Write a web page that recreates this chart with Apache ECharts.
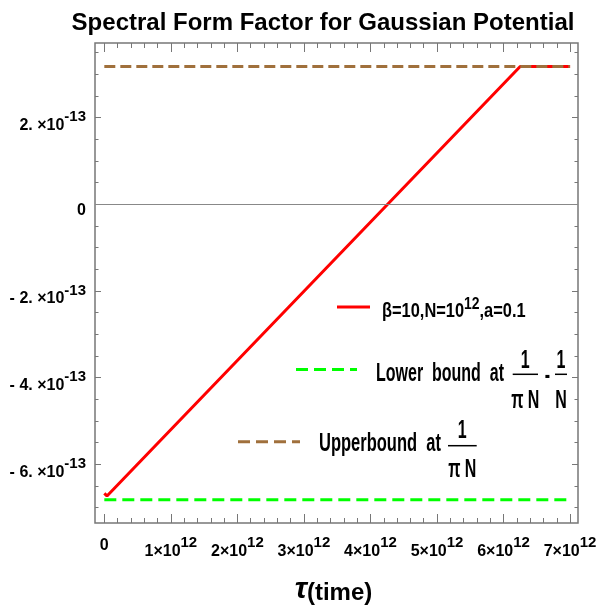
<!DOCTYPE html>
<html><head><meta charset="utf-8">
<script src="https://cdn.jsdelivr.net/npm/echarts@6/dist/echarts.min.js"></script>
<style>html,body{margin:0;padding:0;background:#fff}#c{width:596px;height:609px}</style>
</head><body><div id="c"></div>
<script>
// ---- data ----
const titleText = 'Spectral Form Factor for Gaussian Potential';
const redX = [0, 0.04e12, 6.25e12, 7e12];
const redY = [-6.67e-13, -6.73e-13, 3.18e-13, 3.18e-13];
const upperX = [0, 7e12];
const upperY = [3.183e-13, 3.183e-13];
const lowerX = [0, 7e12];
const lowerY = [-6.817e-13, -6.817e-13];
const xMajorTicks = [0, 1e12, 2e12, 3e12, 4e12, 5e12, 6e12, 7e12];
const xTickMain = ['0', '1×10', '2×10', '3×10', '4×10', '5×10', '6×10', '7×10'];
const xTickExp = ['', '12', '12', '12', '12', '12', '12', '12'];
const yMajorTicks = [-6e-13, -4e-13, -2e-13, 0, 2e-13];
const yTickMain = ['- 6. ×10', '- 4. ×10', '- 2. ×10', '0', '2. ×10'];
const yTickExp = ['-13', '-13', '-13', '', '-13'];

const xMin = -0.14e12, xMax = 7.119e12;
const yMin = -7.355e-13, yMax = 3.723e-13;

const xMinorTicks = [];
for (let k = 1; k <= 35; k++) if (k % 5 !== 0) xMinorTicks.push(k * 0.2e12);
const yMinorTicks = [];
for (let k = -14; k <= 7; k++) if (k % 4 !== 0) yMinorTicks.push(k * 5e-14);

const GRAY = '#777777';
const FONT = 'Liberation Sans';

function idxOf(arr, v) {
  let best = 0, bd = Infinity;
  arr.forEach((a, i) => { const d = Math.abs(a - v); if (d < bd) { bd = d; best = i; } });
  return best;
}

const xRich = {
  m: {fontSize: 16, fontWeight: 'bold', fontFamily: FONT, color: '#000', lineHeight: 16, verticalAlign: 'bottom'},
  s: {fontSize: 15, fontWeight: 'bold', fontFamily: FONT, color: '#000', lineHeight: 16, verticalAlign: 'bottom', padding: [0, 0, 10, 0]},
  z: {fontSize: 16, fontWeight: 'bold', fontFamily: FONT, color: '#000', lineHeight: 16, verticalAlign: 'bottom', padding: [0, 0, 6, 0]}
};
const yRich = {
  m: {fontSize: 16, fontWeight: 'bold', fontFamily: FONT, color: '#000', lineHeight: 16, verticalAlign: 'bottom'},
  s: {fontSize: 15, fontWeight: 'bold', fontFamily: FONT, color: '#000', lineHeight: 16, verticalAlign: 'bottom', padding: [0, 0, 9, 0]},
  z: {fontSize: 16, fontWeight: 'bold', fontFamily: FONT, color: '#000', lineHeight: 16, verticalAlign: 'bottom', padding: [0, 0, 2, 0]}
};

function xAxisDef(pos, ticks, len, withLabels) {
  const a = {
    type: 'value', position: pos, min: xMin, max: xMax,
    axisLine: {show: false, onZero: false},
    splitLine: {show: false},
    axisTick: {show: true, inside: true, length: len, customValues: ticks, lineStyle: {color: GRAY, width: 1}},
    axisLabel: {show: false}
  };
  if (withLabels) {
    a.axisLabel = {
      show: true, customValues: xMajorTicks, margin: 21, rich: xRich,
      formatter: v => { const i = idxOf(xMajorTicks, v); return xTickExp[i] ? '{m|' + xTickMain[i] + '}{s|' + xTickExp[i] + '}' : '{z|' + xTickMain[i] + '}'; }
    };
    a.name = '{t|τ}{p|(time)}';
    a.nameLocation = 'middle';
    a.nameGap = 56;
    a.nameTextStyle = {padding: [0, 6, 0, 0], rich: {
      t: {fontSize: 30, fontWeight: 'bold', fontStyle: 'italic', fontFamily: FONT, color: '#000', verticalAlign: 'bottom', lineHeight: 26},
      p: {fontSize: 24, fontWeight: 'bold', fontFamily: FONT, color: '#000', verticalAlign: 'bottom', lineHeight: 26}
    }};
  }
  return a;
}
function yAxisDef(pos, ticks, len, withLabels) {
  const a = {
    type: 'value', position: pos, min: yMin, max: yMax,
    axisLine: {show: false, onZero: false},
    splitLine: {show: false},
    axisTick: {show: true, inside: true, length: len, customValues: ticks, lineStyle: {color: GRAY, width: 1}},
    axisLabel: {show: false}
  };
  if (withLabels) {
    a.axisLabel = {
      show: true, customValues: yMajorTicks, margin: 9, rich: yRich, padding: [16, 0, 0, 0],
      formatter: v => { const i = idxOf(yMajorTicks, v); return yTickExp[i] ? '{m|' + yTickMain[i] + '}{s|' + yTickExp[i] + '}' : '{z|' + yTickMain[i] + '}'; }
    };
  }
  return a;
}

// legend helpers (decoration only)
function ltext(x, y, text, size, align, sx, rich) {
  const st = {text: text, fontFamily: FONT, fontSize: size, fontWeight: 'bold', fill: '#000', align: align || 'left', verticalAlign: 'middle'};
  if (rich) st.rich = rich;
  return {type: 'text', x: x, y: y, scaleX: sx || 0.64, style: st, z: 100};
}
function lline(x1, y1, x2, y2, color, w, dash) {
  const st = {stroke: color, lineWidth: w};
  if (dash) st.lineDash = dash;
  return {type: 'line', shape: {x1, y1, x2, y2}, style: st, z: 100};
}

const chart = echarts.init(document.getElementById('c'), null, {renderer: 'canvas'});
chart.setOption({
  animation: false,
  backgroundColor: '#fff',
  grid: {left: 95, right: 18, top: 43, bottom: 86, show: true, borderColor: GRAY, borderWidth: 1.5, containLabel: false, outerBoundsMode: 'none'},
  xAxis: [
    xAxisDef('bottom', xMajorTicks, 9, true),
    xAxisDef('bottom', xMinorTicks, 5, false),
    xAxisDef('top', xMajorTicks, 9, false),
    xAxisDef('top', xMinorTicks, 5, false)
  ],
  yAxis: [
    yAxisDef('left', yMajorTicks, 6, true),
    yAxisDef('left', yMinorTicks, 3.5, false),
    yAxisDef('right', yMajorTicks, 6, false),
    yAxisDef('right', yMinorTicks, 3.5, false)
  ],
  series: [
    {
      type: 'line', name: 'lower', xAxisIndex: 0, yAxisIndex: 0, silent: true,
      data: lowerX.map((x, i) => [x, lowerY[i]]), symbol: 'none', z: 2,
      lineStyle: {color: '#00ff00', width: 3, type: [12, 6]},
      markLine: {silent: true, symbol: 'none', label: {show: false}, animation: false,
        lineStyle: {color: '#888888', width: 1, type: 'solid'}, data: [{yAxis: 0}]}
    },
    {
      type: 'line', name: 'sff', xAxisIndex: 0, yAxisIndex: 0, silent: true,
      data: redX.map((x, i) => [x, redY[i]]), symbol: 'none', z: 3,
      lineStyle: {color: '#ff0000', width: 3}
    },
    {
      type: 'line', name: 'upper', xAxisIndex: 0, yAxisIndex: 0, silent: true,
      data: upperX.map((x, i) => [x, upperY[i]]), symbol: 'none', z: 4,
      lineStyle: {color: '#a0703c', width: 3, type: [11, 5]}
    }
  ],
  graphic: [
    {type: 'text', x: 323, y: 23, z: 100, style: {text: titleText, fontFamily: FONT, fontSize: 24, fontWeight: 'bold', fill: '#000', align: 'center', verticalAlign: 'middle'}},
    // red legend
    lline(337, 307, 370, 307, '#ff0000', 3),
    ltext(382, 312, '{m|β=10,N=10}{s|12}{m|,a=0.1}', 20, 'left', 0.82, {
      m: {fontSize: 20, fontWeight: 'bold', fontFamily: FONT, lineHeight: 18, verticalAlign: 'bottom'},
      s: {fontSize: 17, fontWeight: 'bold', fontFamily: FONT, lineHeight: 16, verticalAlign: 'bottom', padding: [0, 0, 8, 0]}
    }),
    // green legend
    lline(296, 369.5, 357, 369.5, '#00ff00', 3, [12, 6]),
    ltext(376, 374, 'Lower  bound  at', 25),
    ltext(525.3, 361.5, '1', 25, 'center'),
    lline(512.7, 374.3, 538, 374.3, '#000', 1.5),
    ltext(525.3, 401, 'π N', 25, 'center'),
    ltext(547.5, 376, '-', 25, 'center'),
    ltext(561, 361.5, '1', 25, 'center'),
    lline(555, 374.3, 567, 374.3, '#000', 1.5),
    ltext(561, 401, 'N', 25, 'center'),
    // brown legend
    lline(238, 441.7, 300, 441.7, '#a0703c', 3, [12, 6]),
    ltext(319, 444, 'Upperbound  at', 25, 'left', 0.66),
    ltext(462.3, 431, '1', 25, 'center'),
    lline(448, 445.7, 476.7, 445.7, '#000', 1.5),
    ltext(462.3, 470, 'π N', 25, 'center')
  ]
});
</script>
</body></html>
